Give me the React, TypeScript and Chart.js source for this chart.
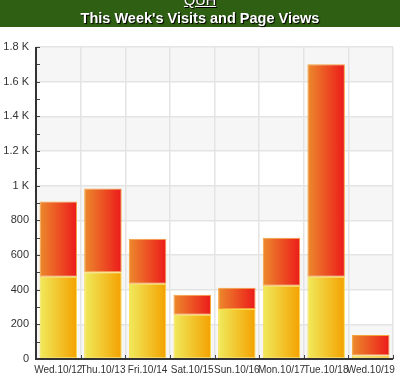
import React, { useEffect, useRef } from "react";
import { Chart, registerables } from "chart.js";

Chart.register(...registerables);

const categories = ["Wed.10/12", "Thu.10/13", "Fri.10/14", "Sat.10/15", "Sun.10/16", "Mon.10/17", "Tue.10/18", "Wed.10/19"];
const visits = [475, 500, 434, 255, 289, 422, 475, 20];
const pageViewsExtra = [433, 484, 260, 115, 122, 278, 1225, 119];
const yTickLabels: Record<number, string> = {
  0: "0", 200: "200", 400: "400", 600: "600", 800: "800",
  1000: "1 K", 1200: "1.2 K", 1400: "1.4 K", 1600: "1.6 K", 1800: "1.8 K",
};

const BAR_PCT = 0.84;

function makeGrad(ctx: any, c1: string, c2: string) {
  const chart = ctx.chart;
  const area = chart.chartArea;
  const xs = chart.scales?.x;
  if (!area || !xs) return c2;
  const cx = xs.getPixelForValue(ctx.dataIndex);
  const half = ((area.right - area.left) / categories.length) * BAR_PCT / 2;
  const g = chart.ctx.createLinearGradient(cx - half, 0, cx + half, 0);
  g.addColorStop(0, c1);
  g.addColorStop(1, c2);
  return g;
}

const bgPlugin = {
  id: "bgBands",
  beforeDraw(chart: any) {
    const { ctx, chartArea: a, scales } = chart;
    const y = scales.y;
    ctx.save();
    ctx.fillStyle = "#ffffff";
    ctx.fillRect(a.left, a.top, a.right - a.left, a.bottom - a.top);
    ctx.fillStyle = "#f6f6f6";
    for (let v = 0; v < 1800; v += 400) {
      const y1 = y.getPixelForValue(v + 200);
      const y0 = y.getPixelForValue(v);
      ctx.fillRect(a.left, y1, a.right - a.left, y0 - y1);
    }
    ctx.restore();
  },
  afterDraw(chart: any) {
    const { ctx, chartArea: a, scales } = chart;
    const y = scales.y;
    ctx.save();
    ctx.strokeStyle = "#444";
    ctx.lineWidth = 1;
    ctx.beginPath();
    for (let v = 0; v <= 1800; v += 100) {
      const py = Math.round(y.getPixelForValue(v)) + 0.5;
      ctx.moveTo(a.left, py);
      ctx.lineTo(a.left + 4, py);
    }
    const w = (a.right - a.left) / categories.length;
    for (let i = 1; i <= categories.length; i++) {
      const px = Math.round(a.left + i * w) + 0.5;
      ctx.moveTo(px, a.bottom);
      ctx.lineTo(px, a.bottom - 4);
    }
    ctx.stroke();
    ctx.lineWidth = 2;
    ctx.strokeStyle = "#333";
    ctx.beginPath();
    ctx.moveTo(a.left, a.top);
    ctx.lineTo(a.left, a.bottom);
    ctx.lineTo(a.right, a.bottom);
    ctx.stroke();
    ctx.restore();
  },
};

export default function App() {
  const ref = useRef<HTMLCanvasElement>(null);
  useEffect(() => {
    document.body.style.margin = "0";
    const chart = new Chart(ref.current!, {
      type: "bar",
      data: {
        labels: categories,
        datasets: [
          {
            label: "Visits",
            data: visits,
            backgroundColor: (c: any) => makeGrad(c, "#f0ea5c", "#f4a100"),
            borderColor: "#f7dc4a",
            borderWidth: 1,
            borderSkipped: false,
          },
          {
            label: "Page Views",
            data: pageViewsExtra,
            backgroundColor: (c: any) => makeGrad(c, "#ec8a2c", "#ec1a1a"),
            borderColor: "#f4a23a",
            borderWidth: 1,
            borderSkipped: false,
          },
        ],
      },
      options: {
        animation: false,
        responsive: false,
        maintainAspectRatio: false,
        datasets: { bar: { categoryPercentage: 1, barPercentage: BAR_PCT } },
        layout: { padding: { top: 47, right: 2, left: 0, bottom: 0 } },
        plugins: { legend: { display: false }, tooltip: { enabled: false }, title: { display: false } },
        scales: {
          x: {
            stacked: true,
            grid: { color: "#e4e4e4", lineWidth: 1.5, offset: true, drawTicks: false },
            border: { display: false },
            ticks: { color: "#333", font: { family: "Liberation Sans", size: 10 }, padding: 5, maxRotation: 0, autoSkip: false },
          },
          y: {
            stacked: true,
            min: 0,
            max: 1800,
            afterFit: (s: any) => { s.width = 36; },
            grid: { color: "#e4e4e4", lineWidth: 1.5, drawTicks: false },
            border: { display: false },
            ticks: {
              stepSize: 200,
              color: "#333",
              padding: 7,
              font: { family: "Liberation Sans", size: 11 },
              callback: (v: any) => yTickLabels[v as number] ?? "",
            },
          },
        },
      },
      plugins: [bgPlugin],
    });
    return () => chart.destroy();
  }, []);
  return (
    <div style={{ position: "fixed", left: 0, top: 0, width: 400, height: 381, background: "#fff", overflow: "hidden" }}>
      <canvas ref={ref} width={400} height={381} style={{ position: "absolute", left: 0, top: 0 }} />
      <div
        style={{
          position: "absolute", left: 0, top: 0, width: 400, height: 27, background: "#2f5f12",
          fontFamily: "Liberation Sans, Arial, sans-serif", fontWeight: "bold", color: "#fff",
          textAlign: "center", fontSize: 14.5, textShadow: "1px 1px 1px #000",
        }}
      >
        <div style={{ position: "absolute", left: 0, width: 400, top: -8, lineHeight: "16px", textDecoration: "underline", fontWeight: "normal" }}>QUH</div>
        <div style={{ position: "absolute", left: 0, width: 400, top: 10, lineHeight: "16px" }}>This Week's Visits and Page Views</div>
      </div>
    </div>
  );
}
